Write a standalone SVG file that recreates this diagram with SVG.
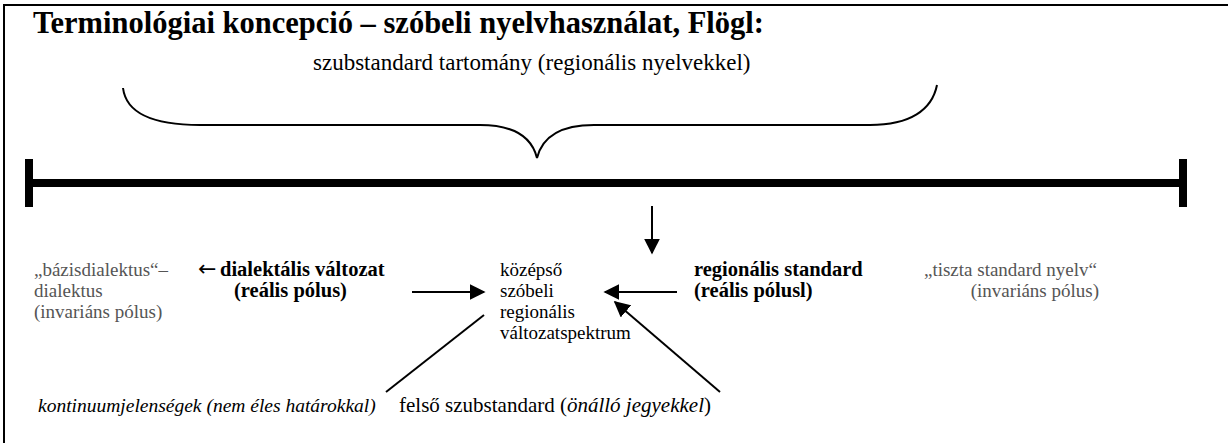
<svg xmlns="http://www.w3.org/2000/svg" width="1228" height="443" viewBox="0 0 1228 443">
<defs>
<style>
.t{font-size:30.5px;font-weight:bold}
.s{font-size:23px}
.m{font-size:19px}
.mb{font-size:20.5px;font-weight:bold}
.g{fill:#555}
.i{font-style:italic}
.ln{stroke:#000;stroke-width:2;fill:none}
</style>
<marker id="ah2" viewBox="0 0 10 10" refX="9" refY="5" markerWidth="16" markerHeight="16" markerUnits="userSpaceOnUse" orient="auto">
<path d="M0,0 L10,5 L0,10 z" fill="#000"/>
</marker>
</defs>
<rect width="1228" height="443" fill="#fff"/>
<g id="frame">
<line x1="4" y1="5" x2="1228" y2="5" stroke="#000" stroke-width="2"/>
<line x1="4" y1="4" x2="4" y2="443" stroke="#000" stroke-width="2"/>
</g>
<g font-family="Liberation Serif, Times New Roman, serif" fill="#000">
<g id="title">
<text class="t" x="33" y="33">Terminológiai koncepció – szóbeli nyelvhasználat, Flögl:</text>
<text class="s" x="313" y="70">szubstandard tartomány (regionális nyelvekkel)</text>
</g>
<g id="basisdialekt">
<text class="m g" x="34" y="276">„bázisdialektus“–</text>
<text class="m g" x="34" y="297">dialektus</text>
<text class="m g" x="34" y="318">(invariáns pólus)</text>
</g>
<g id="dialektalis">
<text x="198" y="276" font-family="DejaVu Sans" font-size="22">←</text>
<text class="mb" x="220" y="276">dialektális változat</text>
<text class="mb" x="234" y="297">(reális pólus)</text>
</g>
<g id="kozepso">
<text class="m" x="500" y="276">középső</text>
<text class="m" x="500" y="297">szóbeli</text>
<text class="m" x="500" y="318">regionális</text>
<text class="m" x="500" y="339">változatspektrum</text>
</g>
<g id="regstandard">
<text class="mb" x="694" y="276">regionális standard</text>
<text class="mb" x="694" y="297">(reális pólusl)</text>
</g>
<g id="tiszta">
<text class="m g" x="1097" y="276" text-anchor="end">„tiszta standard nyelv“</text>
<text class="m g" x="1099" y="297" text-anchor="end">(invariáns pólus)</text>
</g>
<g id="kontinuum">
<text class="i" x="38" y="412" font-size="19.5">kontinuumjelenségek (nem éles határokkal)</text>
</g>
<g id="felso">
<text x="399" y="412" font-size="21">felső szubstandard (<tspan class="i">önálló jegyekkel</tspan>)</text>
</g>
</g>
<g id="brace">
<path class="ln" d="M123,88 C126,112 150,125 200,125 L480,125 C515,125 532,138 537,158 C542,138 559,125 594,125 L870,125 C910,125 932,110 937,85"/>
</g>
<g id="scale">
<line x1="29" y1="183" x2="1183" y2="183" stroke="#000" stroke-width="8"/>
<line x1="29" y1="159" x2="29" y2="207" stroke="#000" stroke-width="8"/>
<line x1="1183" y1="159" x2="1183" y2="207" stroke="#000" stroke-width="8"/>
</g>
<g id="connectors">
<line class="ln" x1="652" y1="206" x2="652" y2="253" marker-end="url(#ah2)"/>
<line class="ln" x1="412" y1="292" x2="484" y2="292" marker-end="url(#ah2)"/>
<line class="ln" x1="677" y1="292" x2="605" y2="292" marker-end="url(#ah2)"/>
<line class="ln" x1="484" y1="315" x2="386" y2="392"/>
<line class="ln" x1="720" y1="392" x2="615" y2="302" marker-end="url(#ah2)"/>
</g>
</svg>
